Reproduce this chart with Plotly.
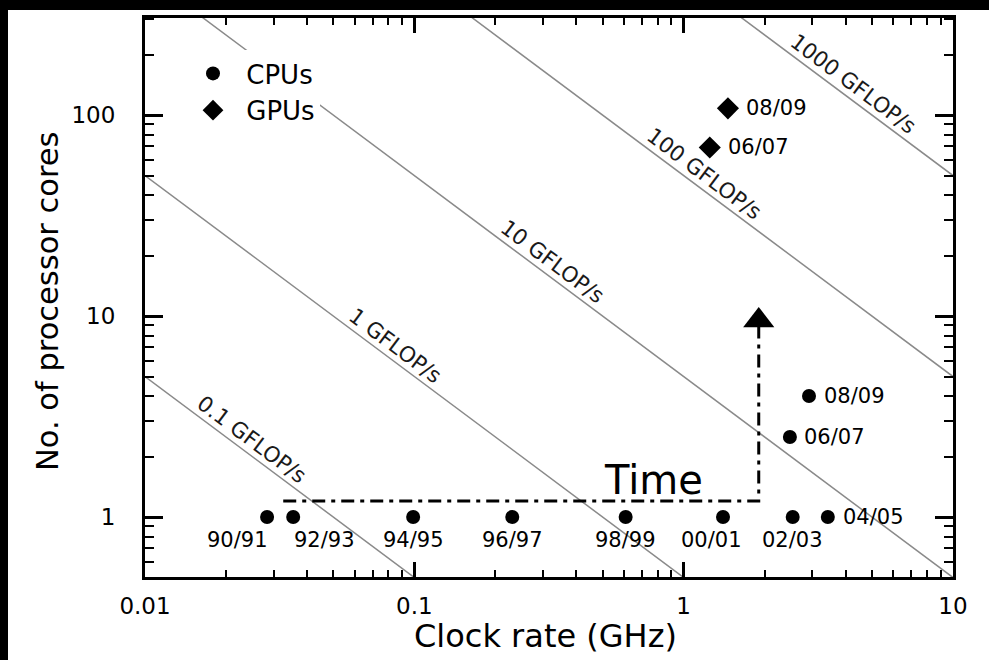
import numpy as np
import plotly.graph_objects as go

# ---------------- data ----------------
cpu_years = ["90/91", "92/93", "94/95", "96/97", "98/99", "00/01", "02/03", "04/05", "06/07", "08/09"]
cpu_clock = [0.0284, 0.0355, 0.099, 0.231, 0.609, 1.40, 2.54, 3.43, 2.48, 2.92]
cpu_cores = [1, 1, 1, 1, 1, 1, 1, 1, 2.5, 4]

gpu_years = ["06/07", "08/09"]
gpu_clock = [1.25, 1.46]
gpu_cores = [69, 108]

gflops_levels = [0.1, 1, 10, 100, 1000]
flops_per_cycle = 2
gflops_label_clock = [0.025, 0.085, 0.326, 1.19, 4.25]

time_arrow_clock = [0.0326, 1.90, 1.90]
time_arrow_cores = [1.20, 1.20, 9.5]

x_ticks = [0.01, 0.1, 1, 10]
x_ticktext = ["0.01", "0.1", "1", "10"]
y_ticks = [1, 10, 100]
y_ticktext = ["1", "10", "100"]

x_range = [0.01, 10]
y_range = [0.503, 304]

FONT = "DejaVu Sans"
W, H = 989, 660
ML, MR, MT, MB = 145, 36, 18, 83
PW, PH = W - ML - MR, H - MT - MB

fig = go.Figure()

# iso-performance lines
for g in gflops_levels:
    prod = g / flops_per_cycle
    fig.add_trace(go.Scatter(
        x=x_range, y=[prod / x_range[0], prod / x_range[1]], mode="lines",
        line=dict(color="#8a8a8a", width=1.5), showlegend=False, hoverinfo="skip"))

# time arrow
fig.add_trace(go.Scatter(
    x=time_arrow_clock, y=time_arrow_cores, mode="lines",
    line=dict(color="black", width=3, dash="13px,6px,4px,6px"),
    showlegend=False, hoverinfo="skip"))
fig.add_trace(go.Scatter(
    x=[time_arrow_clock[-1]], y=[time_arrow_cores[-1]], mode="markers",
    marker=dict(symbol="triangle-up", size=27, color="black"),
    showlegend=False, hoverinfo="skip"))

# CPUs / GPUs
fig.add_trace(go.Scatter(
    x=cpu_clock, y=cpu_cores, mode="markers", name="\u00a0CPUs",
    marker=dict(symbol="circle", size=14, color="black")))
fig.add_trace(go.Scatter(
    x=gpu_clock, y=gpu_cores, mode="markers", name="\u00a0GPUs",
    marker=dict(symbol="diamond", size=17, color="black")))

annotations = []
LBL = dict(family=FONT, size=21, color="black")
# CPU labels
below_shift = [-30, 31, 0, 0, 0, -12, 0]
for i, (yr, cx, cy) in enumerate(zip(cpu_years, cpu_clock, cpu_cores)):
    if i < len(below_shift):
        annotations.append(dict(x=np.log10(cx), y=np.log10(cy), text=yr, showarrow=False,
                                xanchor="center", yanchor="middle",
                                xshift=below_shift[i], yshift=-23, font=LBL))
    else:
        annotations.append(dict(x=np.log10(cx), y=np.log10(cy), text=yr, showarrow=False,
                                xanchor="left", yanchor="middle",
                                xshift=13 if i != 8 else 12, font=LBL))
for yr, cx, cy in zip(gpu_years, gpu_clock, gpu_cores):
    annotations.append(dict(x=np.log10(cx), y=np.log10(cy), text=yr, showarrow=False,
                            xanchor="left", yanchor="middle", xshift=16, font=LBL))

# GFLOP/s labels
for g, lx in zip(gflops_levels, gflops_label_clock):
    prod = g / flops_per_cycle
    txt = ("%g" % g) + " GFLOP/s"
    annotations.append(dict(x=np.log10(lx), y=np.log10(prod / lx), text=txt, showarrow=False,
                            xanchor="center", yanchor="middle",
                            textangle=36.8, yshift=17,
                            font=dict(family=FONT, size=21.5, color="#1a1a1a")))

# Time label
annotations.append(dict(x=(653 - ML) / PW, y=(H - MB - 480) / PH, xref="paper", yref="paper",
                        xanchor="center", yanchor="middle",
                        text="Time", showarrow=False,
                        font=dict(family=FONT, size=40, color="black")))
# axis titles
annotations.append(dict(x=(545 - ML) / PW, y=(H - MB - 636) / PH, xref="paper", yref="paper",
                        xanchor="center", yanchor="middle",
                        text="Clock rate (GHz)", showarrow=False,
                        font=dict(family=FONT, size=32, color="black")))
annotations.append(dict(x=(47 - ML) / PW, y=(H - MB - 302) / PH, xref="paper", yref="paper",
                        xanchor="center", yanchor="middle",
                        text="No. of processor cores", showarrow=False, textangle=-90,
                        font=dict(family=FONT, size=30.5, color="black")))

shapes = [
    dict(type="rect", xref="paper", yref="paper", x0=-ML / PW, x1=(W - ML) / PW,
         y0=(H - MB - 10) / PH, y1=(H - MB) / PH, fillcolor="black", line=dict(width=0), layer="above"),
    dict(type="rect", xref="paper", yref="paper", x0=-ML / PW, x1=(8 - ML) / PW,
         y0=-MB / PH, y1=(H - MB) / PH, fillcolor="black", line=dict(width=0), layer="above"),
]

axis_common = dict(
    type="log", showgrid=False, zeroline=False, showline=True, linecolor="black", linewidth=3,
    mirror="ticks", ticks="inside", tickcolor="black", tickwidth=2.5,
    tickfont=dict(family=FONT, size=23, color="black"),
)
fig.update_layout(
    width=W, height=H, margin=dict(l=ML, r=MR, t=MT, b=MB),
    paper_bgcolor="white", plot_bgcolor="white",
    xaxis=dict(**axis_common, range=[np.log10(x_range[0]), np.log10(x_range[1])],
               tickvals=x_ticks, ticktext=x_ticktext, ticklen=15, ticklabelstandoff=6,
               minor=dict(ticks="inside", ticklen=7, tickwidth=2, tickcolor="black", dtick="D1")),
    yaxis=dict(**axis_common, range=[np.log10(y_range[0]), np.log10(y_range[1])],
               tickvals=y_ticks, ticktext=y_ticktext, ticklen=18, ticklabelstandoff=22,
               minor=dict(ticks="inside", ticklen=9, tickwidth=2, tickcolor="black", dtick="D1")),
    legend=dict(x=(188 - ML) / PW, y=(H - MB - 50) / PH, xanchor="left", yanchor="top",
                bgcolor="white", font=dict(family=FONT, size=26, color="black"),
                itemwidth=40, tracegroupgap=0),
    annotations=annotations, shapes=shapes,
    font=dict(family=FONT),
)

fig.write_html("out.html", config={"displayModeBar": False},
               post_script="document.body.style.margin='0';document.body.style.overflow='hidden';")
